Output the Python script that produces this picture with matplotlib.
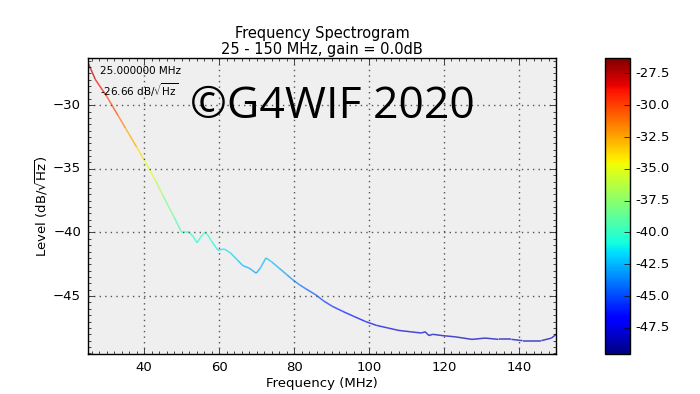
import numpy as np
import matplotlib
matplotlib.use("Agg")
import matplotlib.pyplot as plt
from matplotlib.collections import LineCollection
from matplotlib.colors import Normalize
from matplotlib.ticker import AutoMinorLocator

plt.style.use('classic')
plt.rcParams['mathtext.fontset'] = 'dejavusans'

# frequency (MHz) and level (dB/sqrt(Hz))
freq = [25, 27, 30, 33, 35, 38, 40, 43, 45, 48, 50, 51, 52.1, 53, 54.1, 55, 56.1, 57,
        58, 59.7, 61.4, 63, 65, 66.3, 68, 69.9, 71, 72.5, 74, 76, 78, 79.6, 81.4, 83,
        85.8, 88, 90.2, 93, 96, 99.1, 102, 105, 108, 111, 114, 115, 116, 117, 119.5,
        123, 127.5, 131, 134.6, 138, 141, 143.4, 146, 148.7, 150]
level = [-26.66, -28.0, -29.3, -30.8, -31.8, -33.3, -34.3, -35.9, -37.1, -38.8, -40.0,
         -40.0, -40.0, -40.3, -40.8, -40.4, -40.0, -40.2, -40.7, -41.4, -41.3, -41.6,
         -42.2, -42.6, -42.8, -43.2, -42.8, -42.0, -42.3, -42.8, -43.3, -43.7, -44.1,
         -44.4, -44.9, -45.4, -45.8, -46.2, -46.6, -47.0, -47.3, -47.5, -47.7, -47.8,
         -47.9, -47.8, -48.1, -48.0, -48.1, -48.2, -48.4, -48.3, -48.4, -48.4, -48.5,
         -48.5, -48.5, -48.3, -48.0]

f_lo, f_hi = 25, 150
gain = 0.0
y_lo, y_hi = -49.55, -26.3
cbar_ticks = [-27.5, -30.0, -32.5, -35.0, -37.5, -40.0, -42.5, -45.0, -47.5]

fig = plt.figure(figsize=(7, 3.94), dpi=100, facecolor='white')
ax = fig.add_axes([0.1257, 0.1015, 0.669, 0.751])
cax = fig.add_axes([0.864, 0.1015, 0.036, 0.751])

ax.set_facecolor('#efefef')
norm = Normalize(vmin=y_lo, vmax=y_hi)
pts = np.column_stack([freq, level]).reshape(-1, 1, 2)
segs = np.concatenate([pts[:-1], pts[1:]], axis=1)
mid = (np.array(level[:-1]) + np.array(level[1:])) / 2
lc = LineCollection(segs, cmap='jet', norm=norm, linewidths=1.1, alpha=0.7)
lc.set_array(mid)
ax.add_collection(lc)

ax.set_xlim(f_lo, f_hi)
ax.set_ylim(y_lo, y_hi)
ax.set_xticks([40, 60, 80, 100, 120, 140])
ax.set_yticks([-30, -35, -40, -45])
ax.xaxis.set_minor_locator(AutoMinorLocator(10))
ax.yaxis.set_minor_locator(AutoMinorLocator(10))
ax.tick_params(labelsize=9.5, pad=5)
ax.grid(True, color='#555555', linestyle=':', linewidth=1.0)
ax.set_xlabel('Frequency (MHz)', fontsize=9.5, labelpad=2)
ax.set_ylabel(r'Level (dB/$\sqrt{\mathrm{Hz}}$)', fontsize=9.5, labelpad=2)
ax.set_title('Frequency Spectrogram\n%d - %d MHz, gain = %.1fdB' % (f_lo, f_hi, gain),
             fontsize=10.5, pad=3, linespacing=1.1)

ax.text(0.025, 0.975, '%.6f MHz' % freq[0], transform=ax.transAxes,
        fontsize=7.5, va='top', ha='left')
ax.text(0.025, 0.92, r'%.2f dB/$\sqrt{\mathrm{Hz}}$' % level[0], transform=ax.transAxes,
        fontsize=7.5, va='top', ha='left')

fig.text(0.475, 0.728, '\u00a9G4WIF 2020', fontsize=32, family='Open Sans',
         ha='center', va='center', color='black')

sm = plt.cm.ScalarMappable(cmap='jet', norm=norm)
cb = fig.colorbar(sm, cax=cax, ticks=cbar_ticks, format='%.1f')
cb.ax.tick_params(labelsize=9.5)

fig.savefig('out.png', dpi=100, facecolor='white')
